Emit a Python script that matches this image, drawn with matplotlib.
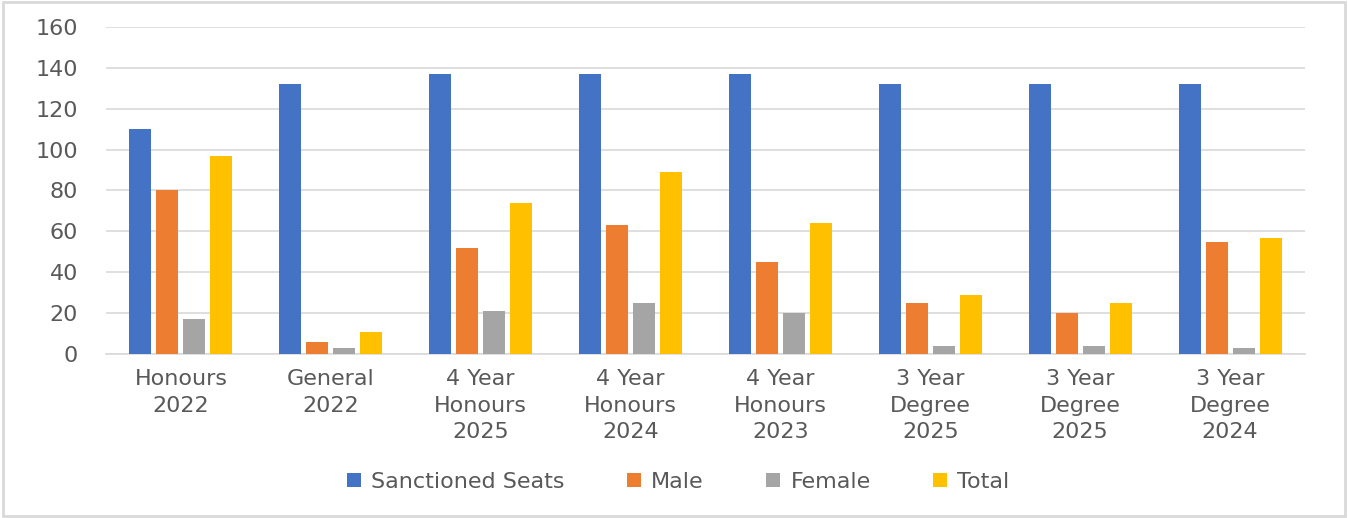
import matplotlib
matplotlib.use("Agg")
import matplotlib.pyplot as plt
from matplotlib.patches import Rectangle
import numpy as np

categories = ["Honours\n2022", "General\n2022", "4 Year\nHonours\n2025", "4 Year\nHonours\n2024",
              "4 Year\nHonours\n2023", "3 Year\nDegree\n2025", "3 Year\nDegree\n2025", "3 Year\nDegree\n2024"]
sanctioned = [110, 132, 137, 137, 137, 132, 132, 132]
male = [80, 6, 52, 63, 45, 25, 20, 55]
female = [17, 3, 21, 25, 20, 4, 4, 3]
total = [97, 11, 74, 89, 64, 29, 25, 57]

series = [("Sanctioned Seats", sanctioned, "#4472C4"),
          ("Male", male, "#ED7D31"),
          ("Female", female, "#A5A5A5"),
          ("Total", total, "#FFC000")]

txt = "#595959"
fs = 16

fig = plt.figure(figsize=(13.48, 5.18), dpi=100)
fig.patches.append(Rectangle((0.002, 0.004), 0.996, 0.992, transform=fig.transFigure,
                             fill=False, edgecolor="#D9D9D9", linewidth=2))
ax = fig.add_axes([0.0786, 0.3166, 0.8895, 0.6313])

x = np.arange(len(categories))
slot = 0.18
width = 0.147
for k, (name, vals, col) in enumerate(series):
    ax.bar(x + (k - 1.5) * slot, vals, width, color=col, label=name, zorder=3)

ax.set_xlim(-0.5, len(categories) - 0.5)
ax.set_ylim(0, 160)
ax.set_yticks(range(0, 161, 20))
ax.set_xticks(x)
ax.set_xticklabels(categories, linespacing=1.4)
ax.grid(axis="y", color="#D9D9D9", linewidth=1.2, zorder=0)
for s in ["top", "right", "left"]:
    ax.spines[s].set_visible(False)
ax.spines["bottom"].set_color("#D9D9D9")
ax.spines["bottom"].set_linewidth(1.2)
ax.tick_params(axis="both", length=0, labelsize=fs, labelcolor=txt)
ax.tick_params(axis="y", pad=20)
ax.tick_params(axis="x", pad=11)

fig.legend(loc="center", bbox_to_anchor=(0.503, 0.07), ncol=4, frameon=False,
           fontsize=fs, labelcolor=txt, handlelength=0.65, handleheight=0.65,
           handletextpad=0.45, columnspacing=2.8)

fig.savefig("out.png", dpi=100)
